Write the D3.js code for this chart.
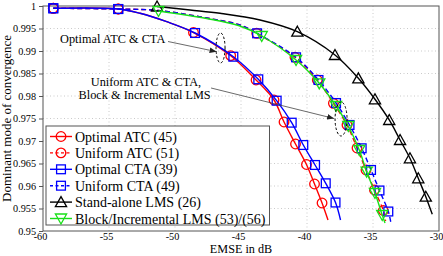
<!DOCTYPE html>
<html>
<head>
<meta charset="utf-8">
<script src="https://cdn.jsdelivr.net/npm/d3@7"></script>
<style>
  body { margin: 0; background: #fff; }
  svg { display: block; font-family: "Liberation Serif", "Times New Roman", serif; }
</style>
</head>
<body>
<script>
// axis ticks
const emseTicks = [-60, -55, -50, -45, -40, -35, -30];
const modeTicks = [0.95, 0.955, 0.96, 0.965, 0.97, 0.975, 0.98, 0.985, 0.99, 0.995, 1];

// mark = 0 means a knot of the line without a marker
const optAtcEmse = [-59.22, -54.3, -52.65, -50.63, -48.6, -45.78, -43.86, -42.5, -41.74, -40.87, -40.04, -39.43, -38.86, -38.41];
const optAtcMode = [0.99949, 0.99933, 0.99838, 0.99651, 0.99411, 0.98896, 0.98356, 0.97911, 0.97422, 0.96933, 0.96478, 0.96044, 0.95622, 0.95244];
const optAtcMark = [1, 1, 0, 0, 1, 1, 1, 1, 1, 1, 1, 1, 1, 0];

const uniAtcEmse = [-59.22, -54.3, -51.25, -47.6, -45.08, -43.81, -40.91, -39.22, -38.0, -36.97, -36.21, -35.53, -34.89, -34.22, -34.05];
const uniAtcMode = [0.99949, 0.99933, 0.999, 0.99733, 0.99578, 0.99393, 0.9886, 0.98356, 0.97838, 0.97356, 0.96844, 0.96356, 0.95911, 0.95456, 0.95222];
const uniAtcMark = [1, 1, 0, 0, 0, 1, 1, 1, 1, 1, 1, 1, 1, 1, 0];

const optCtaEmse = [-59.22, -54.3, -52.65, -50.63, -48.48, -45.58, -43.69, -42.3, -41.16, -40.28, -39.39, -38.58, -37.84, -37.46];
const optCtaMode = [0.99949, 0.99933, 0.99838, 0.99651, 0.994, 0.98873, 0.98371, 0.97896, 0.97407, 0.96911, 0.96467, 0.9606, 0.95633, 0.95244];
const optCtaMark = [1, 1, 0, 0, 1, 1, 1, 1, 1, 1, 1, 1, 1, 0];

const uniCtaEmse = [-59.22, -54.3, -51.25, -47.6, -45.08, -43.78, -40.83, -39.13, -37.8, -36.78, -35.86, -35.15, -34.51, -33.84, -33.64];
const uniCtaMode = [0.99949, 0.99933, 0.999, 0.99733, 0.99578, 0.99393, 0.9886, 0.98356, 0.97844, 0.97356, 0.96838, 0.96356, 0.959, 0.95433, 0.95178];
const uniCtaMark = [1, 1, 0, 0, 0, 1, 1, 1, 1, 1, 1, 1, 1, 1, 0];

const aloneEmse = [-51.36, -48.86, -46.59, -43.56, -40.73, -37.88, -36.11, -34.85, -33.77, -32.95, -32.2, -31.57, -31.0, -30.51];
const aloneMode = [0.99989, 0.99911, 0.99838, 0.99689, 0.99429, 0.98911, 0.98393, 0.97927, 0.97467, 0.97022, 0.96616, 0.96171, 0.95762, 0.95371];
const aloneMark = [1, 0, 0, 0, 1, 1, 1, 1, 1, 1, 1, 1, 1, 0];

const blockEmse = [-51.25, -47.6, -45.08, -43.43, -40.83, -39.07, -37.8, -36.87, -36.04, -35.48, -34.85, -34.3, -34.09];
const blockMode = [0.99889, 0.99722, 0.99556, 0.99333, 0.988, 0.98282, 0.97778, 0.97333, 0.968, 0.96318, 0.95844, 0.95356, 0.95178];
const blockMark = [1, 0, 0, 1, 1, 1, 1, 1, 1, 1, 1, 1, 0];

const legendNames = ["Optimal ATC (45)", "Uniform ATC (51)", "Optimal CTA (39)", "Uniform CTA (49)", "Stand-alone LMS (26)", "Block/Incremental LMS (53)/(56)"];

const w = 443;
const h = 256;
const padL = 43, padR = 439, padT = 6, padB = 231;
const green = "#18e018";

const series = [
  { x: optAtcEmse, y: optAtcMode, m: optAtcMark, color: "#ff0000", dash: null, shape: "circle" },
  { x: uniAtcEmse, y: uniAtcMode, m: uniAtcMark, color: "#ff0000", dash: "5,3", shape: "circle" },
  { x: optCtaEmse, y: optCtaMode, m: optCtaMark, color: "#0000ff", dash: null, shape: "square" },
  { x: uniCtaEmse, y: uniCtaMode, m: uniCtaMark, color: "#0000ff", dash: "5,3", shape: "square" },
  { x: aloneEmse, y: aloneMode, m: aloneMark, color: "#000000", dash: null, shape: "up" },
  { x: blockEmse, y: blockMode, m: blockMark, color: green, dash: null, shape: "down" },
];
series.forEach((s, i) => {
  s.name = legendNames[i];
  s.pts = s.x.map((v, j) => ({ x: v, y: s.y[j], mark: s.m[j] }));
});

const svg = d3.select("body").append("svg").attr("width", w).attr("height", h);

const xScale = d3.scaleLinear().domain([-60, -30]).range([padL, padR]);
const yScale = d3.scaleLinear().domain([0.95, 1]).range([padB, padT]);

// grid
const grid = svg.append("g").attr("stroke", "#bdbdbd").attr("stroke-width", 0.8).attr("stroke-dasharray", "1,2.5");
grid.selectAll(".gx").data(emseTicks.slice(1, -1)).enter().append("line")
  .attr("x1", (d) => xScale(d)).attr("x2", (d) => xScale(d))
  .attr("y1", padT).attr("y2", padB);
grid.selectAll(".gy").data(modeTicks.slice(1, -1)).enter().append("line")
  .attr("x1", padL).attr("x2", padR)
  .attr("y1", (d) => yScale(d)).attr("y2", (d) => yScale(d));

// axes
const yAxis = d3.axisLeft(yScale).tickValues(modeTicks).tickSize(4).tickPadding(3)
  .tickFormat((d) => String(+d.toFixed(3)));
const xAxis = d3.axisBottom(xScale).tickValues(emseTicks).tickSize(0).tickPadding(2)
  .tickFormat((d) => String(d));

const gy = svg.append("g").attr("transform", `translate(${padL},0)`).call(yAxis);
const gx = svg.append("g").attr("transform", `translate(0,${padB})`).call(xAxis);
[gx, gy].forEach((g) => {
  g.attr("font-family", null);
  g.select(".domain").remove();
  g.selectAll("line").attr("stroke", "#555");
  g.selectAll("text").attr("font-family", "Liberation Serif").attr("font-size", 10.2).attr("fill", "#000");
});
gx.selectAll("text").attr("dx", -3);

svg.append("rect").attr("x", padL).attr("y", padT)
  .attr("width", padR - padL).attr("height", padB - padT)
  .attr("fill", "none").attr("stroke", "#555").attr("stroke-width", 1);

svg.append("text").attr("x", (padL + padR) / 2).attr("y", 253.2)
  .attr("text-anchor", "middle").attr("font-size", 12.2).text("EMSE in dB");
svg.append("text").attr("transform", `translate(10.5,${(padT + padB) / 2}) rotate(-90)`)
  .attr("text-anchor", "middle").attr("font-size", 13).text("Dominant mode of convergence");

// marker shapes
function drawMarker(g, shape, color) {
  if (shape === "circle") {
    g.append("circle").attr("r", 4.8);
  } else if (shape === "square") {
    g.append("rect").attr("x", -4.4).attr("y", -4.4).attr("width", 8.8).attr("height", 8.8);
  } else if (shape === "up") {
    g.append("path").attr("d", "M0,-5.5L5.6,4.5L-5.6,4.5Z");
  } else {
    g.append("path").attr("d", "M0,5.5L5.6,-4.5L-5.6,-4.5Z");
  }
  g.attr("fill", "none").attr("stroke", color).attr("stroke-width", 1.3);
}

const line = d3.line().x((d) => xScale(d.x)).y((d) => yScale(d.y)).curve(d3.curveCatmullRom.alpha(0.5));

series.forEach((s) => {
  svg.append("path").datum(s.pts).attr("d", line)
    .attr("fill", "none").attr("stroke", s.color).attr("stroke-width", 1.4)
    .attr("stroke-dasharray", s.dash);
  s.pts.filter((p) => p.mark).forEach((p) => {
    const g = svg.append("g").attr("transform", `translate(${xScale(p.x)},${yScale(p.y)})`);
    drawMarker(g, s.shape, s.color);
  });
});

// annotations
svg.append("defs").append("marker").attr("id", "arr")
  .attr("viewBox", "0 0 10 10").attr("refX", 10).attr("refY", 5)
  .attr("markerWidth", 7).attr("markerHeight", 7).attr("orient", "auto")
  .attr("markerUnits", "userSpaceOnUse")
  .append("path").attr("d", "M0,1L10,5L0,9Z").attr("fill", "#222");

const ellipses = [[-46.55, 0.99067, 4.5, 15], [-37.42, 0.97489, 6, 17]];
ellipses.forEach((e) => {
  svg.append("ellipse").attr("cx", xScale(e[0])).attr("cy", yScale(e[1]))
    .attr("rx", e[2]).attr("ry", e[3])
    .attr("fill", "none").attr("stroke", "#000").attr("stroke-width", 1).attr("stroke-dasharray", "2.5,2");
});

const arrows = [[-50.53, 0.99211, -46.85, 0.98985], [-47.27, 0.98178, -37.95, 0.975]];
arrows.forEach((a) => {
  svg.append("line").attr("x1", xScale(a[0])).attr("y1", yScale(a[1]))
    .attr("x2", xScale(a[2])).attr("y2", yScale(a[3]))
    .attr("stroke", "#444").attr("stroke-width", 0.8).attr("marker-end", "url(#arr)");
});

svg.append("text").attr("x", xScale(-58.71)).attr("y", yScale(0.99167))
  .attr("font-size", 12.3).text("Optimal ATC & CTA");
svg.append("text").attr("x", xScale(-52.2)).attr("y", yScale(0.98233))
  .attr("text-anchor", "middle").attr("font-size", 12.3).text("Uniform ATC & CTA,");
svg.append("text").attr("x", xScale(-52.3)).attr("y", yScale(0.97944))
  .attr("text-anchor", "middle").attr("font-size", 12.3).text("Block & Incremental LMS");

// legend
const legend = svg.append("g");
legend.append("rect").attr("x", 46).attr("y", 126).attr("width", 223.5).attr("height", 99)
  .attr("fill", "#fff").attr("stroke", "#555").attr("stroke-width", 1);
series.forEach((s, i) => {
  const cy = 136.5 + i * 16.4;
  legend.append("line").attr("x1", 50).attr("x2", 72).attr("y1", cy).attr("y2", cy)
    .attr("stroke", s.color).attr("stroke-width", 1.4).attr("stroke-dasharray", s.dash ? "3,2.5" : null);
  const g = legend.append("g").attr("transform", `translate(61,${cy})`);
  drawMarker(g, s.shape, s.color);
  legend.append("text").attr("x", 75).attr("y", cy + 5).attr("font-size", 14).text(s.name);
});
</script>
</body>
</html>
